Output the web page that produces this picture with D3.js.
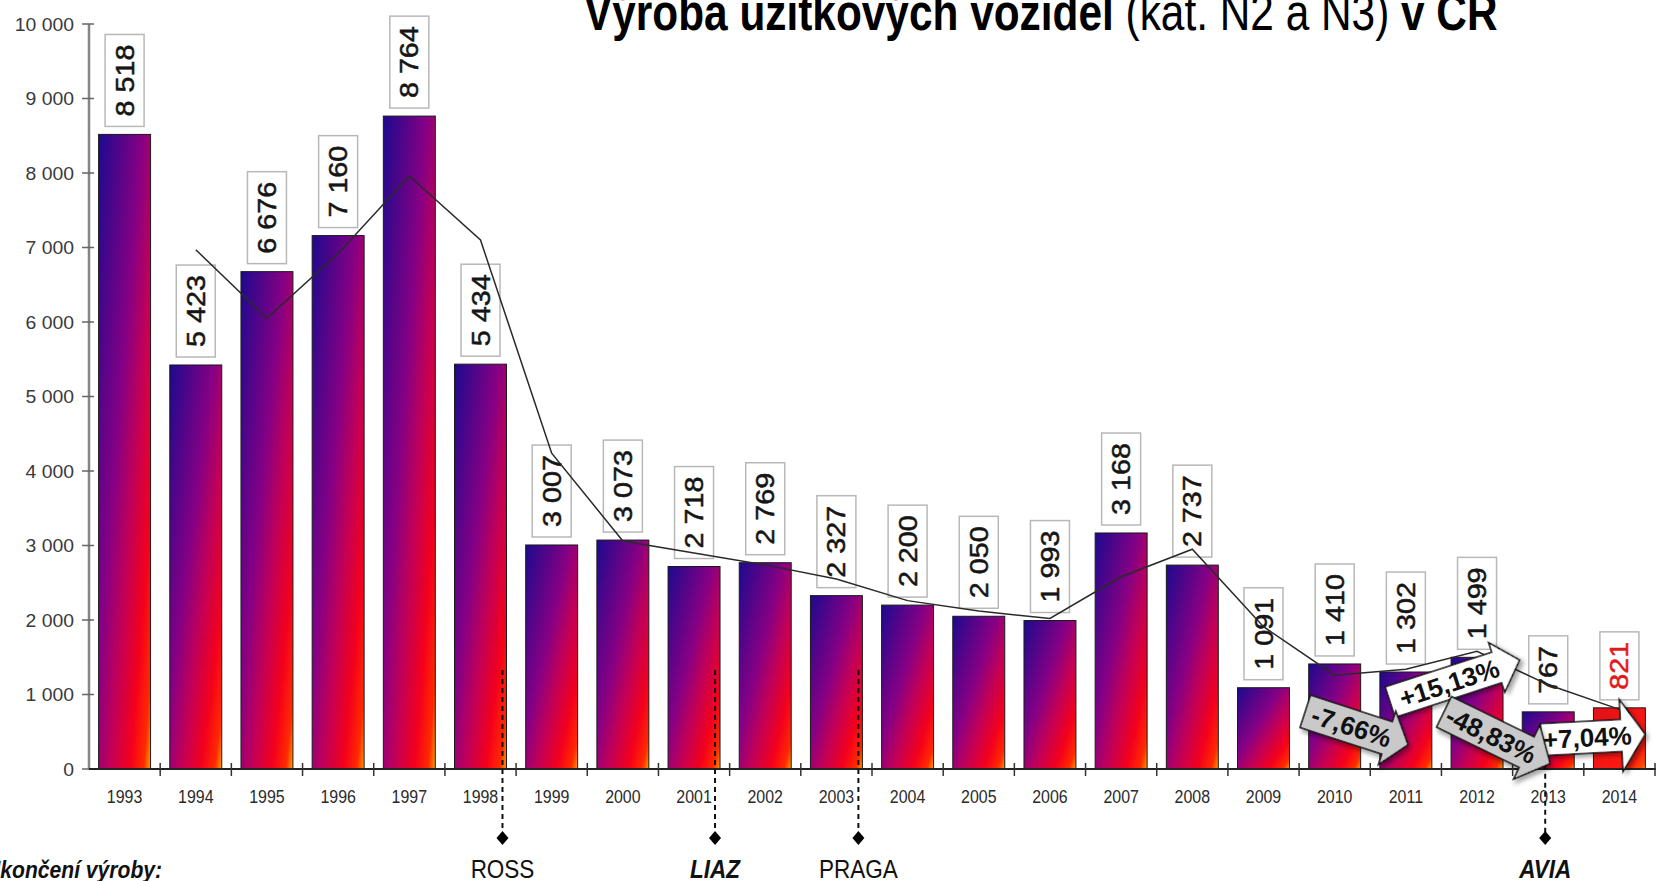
<!DOCTYPE html>
<html>
<head>
<meta charset="utf-8">
<script src="https://cdn.jsdelivr.net/npm/d3@7"></script>
<style>
  body { margin: 0; background: #fff; overflow: hidden; }
  svg { display: block; }
  text { font-family: "Liberation Sans", Arial, sans-serif; }
</style>
</head>
<body>
<div id="chart"></div>
<script>
// data
const years = ['1993','1994','1995','1996','1997','1998','1999','2000','2001','2002','2003',
               '2004','2005','2006','2007','2008','2009','2010','2011','2012','2013','2014'];
const production = [8518, 5423, 6676, 7160, 8764, 5434, 3007, 3073, 2718, 2769, 2327,
                    2200, 2050, 1993, 3168, 2737, 1091, 1410, 1302, 1499, 767, 821];
// thin trend line (starts in 1994)
const trend = [null, 6970, 6050, 6920, 7960, 7100, 4240, 3060, 2900, 2740, 2550,
               2260, 2120, 2020, 2580, 2950, 1910, 1260, 1340, 1580, 1130, 800];
const yTicks = [0, 1000, 2000, 3000, 4000, 5000, 6000, 7000, 8000, 9000, 10000];
const endYears = ['1998', '2001', '2003', '2013'];
const endNames = ['ROSS', 'LIAZ', 'PRAGA', 'AVIA'];
const changeLabels = ['-7,66%', '+15,13%', '-48,83%', '+7,04%'];

const width = 1656, height = 881;
const plot = { left: 89, right: 1655, top: 24, bottom: 769 };

const svg = d3.select('#chart').append('svg')
  .attr('width', width)
  .attr('height', height);

const defs = svg.append('defs');

function gradient(id, stops) {
  const g = defs.append('linearGradient')
    .attr('id', id)
    .attr('x1', 0).attr('y1', 0).attr('x2', 1).attr('y2', 1);
  stops.forEach(([o, c]) => g.append('stop').attr('offset', o).attr('stop-color', c));
}
gradient('barFill', [[0, '#1c0a8e'], [0.42, '#860084'], [0.6, '#c0005a'], [0.8, '#f4001c'], [0.93, '#ff2a00'], [1, '#ffa000']]);
gradient('lastFill', [[0, '#e0101a'], [0.8, '#ff1a10'], [0.95, '#ff4a00'], [1, '#ff9a00']]);

const shadow = defs.append('filter').attr('id', 'shadow')
  .attr('x', '-20%').attr('y', '-30%').attr('width', '140%').attr('height', '160%');
shadow.append('feDropShadow')
  .attr('dx', 3).attr('dy', 3).attr('stdDeviation', 2)
  .attr('flood-color', '#000').attr('flood-opacity', 0.35);

const x = d3.scaleBand()
  .domain(years)
  .range([plot.left, plot.right])
  .paddingInner(0.27)
  .paddingOuter(0.135);

const y = d3.scaleLinear()
  .domain([0, 10000])
  .range([plot.bottom, plot.top]);

const fmt = d3.formatLocale({ decimal: ',', thousands: ' ', grouping: [3], currency: ['', ''] }).format(',d');
const step = x.step();
const boundary = d => x(d) - step * x.paddingInner() / 2;

// title (clipped at the top edge, as in the picture)
const title = svg.append('g')
  .attr('transform', 'translate(584,30) scale(0.815,1)')
  .append('text')
  .attr('font-size', 52)
  .attr('fill', '#000');
title.append('tspan').attr('font-weight', 'bold').text('Výroba užitkových vozidel ');
title.append('tspan').text('(kat. N2 a N3) ');
title.append('tspan').attr('font-weight', 'bold').text('v ČR');

// y axis
const yAxis = svg.append('g');
yAxis.append('line')
  .attr('x1', plot.left).attr('x2', plot.left)
  .attr('y1', y(10000)).attr('y2', y(0))
  .attr('stroke', '#858585').attr('stroke-width', 2.5);
yAxis.selectAll('.ytick')
  .data(yTicks)
  .enter().append('line')
  .attr('x1', plot.left - 7).attr('x2', plot.left + 5)
  .attr('y1', d => y(d)).attr('y2', d => y(d))
  .attr('stroke', '#666').attr('stroke-width', 1.5);
yAxis.selectAll('.ylab')
  .data(yTicks)
  .enter().append('g')
  .attr('transform', d => `translate(74,${y(d)}) scale(1.02,1)`)
  .append('text')
  .attr('text-anchor', 'end')
  .attr('dy', '0.36em')
  .attr('font-size', 19)
  .attr('fill', '#3a3a3a')
  .text(d => fmt(d));

// bars
svg.append('g')
  .selectAll('rect')
  .data(production)
  .enter().append('rect')
  .attr('x', (d, i) => x(years[i]))
  .attr('y', d => y(d))
  .attr('width', x.bandwidth())
  .attr('height', d => y(0) - y(d))
  .attr('fill', (d, i) => i === years.length - 1 ? 'url(#lastFill)' : 'url(#barFill)')
  .attr('stroke', '#1a1a1a')
  .attr('stroke-width', 1);

// x axis
const xAxis = svg.append('g');
xAxis.append('line')
  .attr('x1', plot.left).attr('x2', width)
  .attr('y1', y(0)).attr('y2', y(0))
  .attr('stroke', '#222').attr('stroke-width', 2);
xAxis.selectAll('.xtick')
  .data(years.slice(1).concat(['end']))
  .enter().append('line')
  .attr('x1', d => d === 'end' ? plot.right : boundary(d))
  .attr('x2', d => d === 'end' ? plot.right : boundary(d))
  .attr('y1', y(0) - 6).attr('y2', y(0) + 7)
  .attr('stroke', '#333').attr('stroke-width', 1.5);
xAxis.selectAll('.xlab')
  .data(years)
  .enter().append('g')
  .attr('transform', d => `translate(${x(d) + x.bandwidth() / 2},803) scale(0.84,1)`)
  .append('text')
  .attr('text-anchor', 'middle')
  .attr('font-size', 19)
  .attr('fill', '#2a2a2a')
  .text(d => d);

// end of production markers
const endOffset = [-4, -5, -4, -29];
const endTop = [1330, 1330, 1330, 300];
const endStyle = [false, true, false, true];
const ends = svg.append('g');
endYears.forEach((yr, i) => {
  const ex = x(yr) + x.bandwidth() + endOffset[i];
  ends.append('line')
    .attr('x1', ex).attr('x2', ex)
    .attr('y1', y(endTop[i])).attr('y2', 832)
    .attr('stroke', '#111').attr('stroke-width', 2)
    .attr('stroke-dasharray', '5,4');
  ends.append('path')
    .attr('d', `M${ex},831L${ex + 6},838L${ex},845L${ex - 6},838Z`)
    .attr('fill', '#000');
  ends.append('g')
    .attr('transform', `translate(${ex},878) scale(0.9,1)`)
    .append('text')
    .attr('text-anchor', 'middle')
    .attr('font-size', 25)
    .attr('font-weight', endStyle[i] ? 'bold' : 'normal')
    .attr('font-style', endStyle[i] ? 'italic' : 'normal')
    .attr('fill', '#111')
    .text(endNames[i]);
});
svg.append('g')
  .attr('transform', 'translate(-15,878) scale(0.88,1)')
  .append('text')
  .attr('font-size', 24)
  .attr('font-weight', 'bold')
  .attr('font-style', 'italic')
  .attr('fill', '#111')
  .text('Ukončení výroby:');

// value labels in boxes
const labels = svg.append('g');
production.forEach((v, i) => {
  const cx = x(years[i]) + x.bandwidth() / 2;
  const col = i === production.length - 1 ? '#e01a1a' : '#151515';
  const g = labels.append('g')
    .attr('transform', `translate(${cx},${y(v) - 8}) rotate(-90)`);
  const box = g.append('rect');
  const t = g.append('text')
    .attr('transform', 'scale(1.15,1)')
    .attr('x', 10 / 1.15)
    .attr('dy', '0.36em')
    .attr('font-size', 25)
    .attr('fill', col)
    .attr('stroke', col)
    .attr('stroke-width', 0.5)
    .text(fmt(v));
  const len = t.node().getComputedTextLength() * 1.15;
  box.attr('x', 0).attr('y', -19.5)
    .attr('width', len + 20).attr('height', 39)
    .attr('fill', '#fff')
    .attr('stroke', '#b8b8b8')
    .attr('stroke-width', 1.5);
});

// trend line
const line = d3.line()
  .defined(d => d != null)
  .x((d, i) => x(years[i]) + x.bandwidth() / 2)
  .y(d => y(d));
svg.append('path')
  .datum(trend)
  .attr('d', line)
  .attr('fill', 'none')
  .attr('stroke', '#2a2a2a')
  .attr('stroke-width', 1.5);

// change arrows
const arrowLayout = [
  { year: '2010', dx: 22, v: 550, L: 108, h: 17, H: 28, hl: 22, angle: 18, fill: '#c9c9c9' },
  { year: '2011', dx: 49, v: 1180, L: 136, h: 16, H: 26, hl: 24, angle: -18, fill: '#ffffff' },
  { year: '2012', dx: 20, v: 420, L: 118, h: 17, H: 30, hl: 26, angle: 26, fill: '#c9c9c9' },
  { year: '2013', dx: 45, v: 430, L: 104, h: 16, H: 36, hl: 24, angle: -3, fill: '#ffffff' }
];
function arrowPath(L, h, H, hl) {
  const a = -L / 2, b = L / 2 - hl, c = L / 2;
  return `M${a},${-h}L${b},${-h}L${b},${-H}L${c},0L${b},${H}L${b},${h}L${a},${h}Z`;
}
const arrows = svg.append('g');
[1, 0, 3, 2].forEach(i => {
  const a = arrowLayout[i];
  const cx = x(a.year) + x.bandwidth() / 2 + a.dx;
  const g = arrows.append('g')
    .attr('transform', `translate(${cx},${y(a.v)}) rotate(${a.angle})`);
  g.append('path')
    .attr('d', arrowPath(a.L, a.h, a.H, a.hl))
    .attr('fill', a.fill)
    .attr('stroke', '#111')
    .attr('stroke-width', 1.5)
    .attr('filter', 'url(#shadow)');
  g.append('text')
    .attr('x', -a.hl / 4)
    .attr('dy', '0.36em')
    .attr('text-anchor', 'middle')
    .attr('font-size', 26)
    .attr('font-weight', 'bold')
    .attr('fill', '#111')
    .text(changeLabels[i]);
});
</script>
</body>
</html>
